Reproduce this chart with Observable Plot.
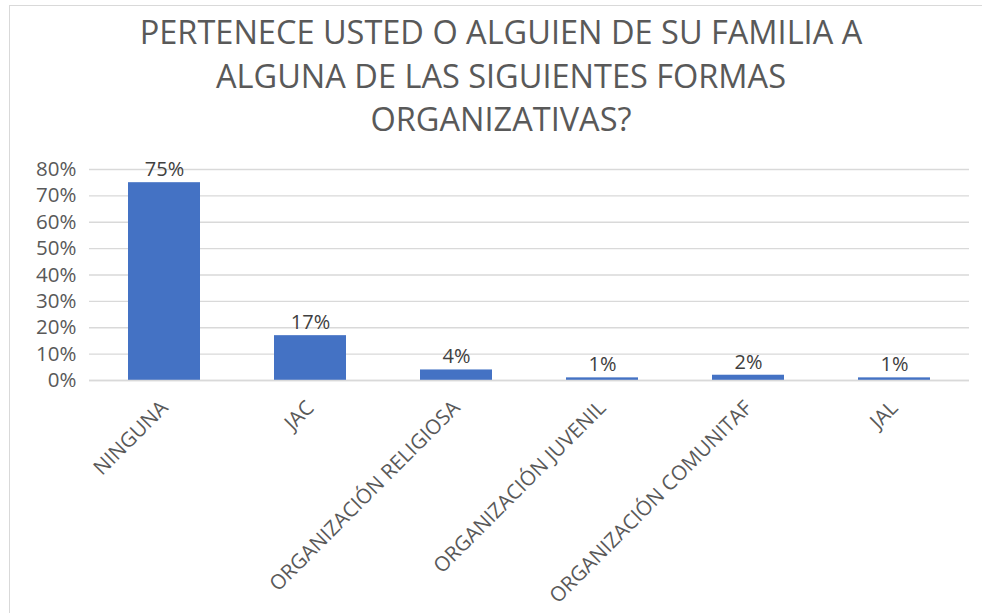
<!DOCTYPE html>
<html>
<head>
<meta charset="utf-8">
<script src="https://cdn.jsdelivr.net/npm/d3@7"></script>
<script src="https://cdn.jsdelivr.net/npm/@observablehq/plot@0.6"></script>
<style>
  html, body { margin: 0; padding: 0; background: #fff; }
  #wrap { position: relative; width: 982px; height: 613px; overflow: hidden; background: #fff; font-family: "Open Sans", sans-serif; }
  #frame { position: absolute; left: 9px; top: 5px; width: 990px; height: 620px; border-left: 1px solid #d9d9d9; border-top: 1px solid #d9d9d9; }
  #title { position: absolute; left: 0; top: 10px; width: 1002px; text-align: center; color: #595959; font-size: 32.5px; line-height: 43.5px; }
  #chart { position: absolute; left: 0; top: 150px; }
</style>
</head>
<body>
<div id="wrap">
  <div id="frame"></div>
  <div id="title">PERTENECE USTED O ALGUIEN DE SU FAMILIA A<br>ALGUNA DE LAS SIGUIENTES FORMAS<br>ORGANIZATIVAS?</div>
  <div id="chart"></div>
</div>
<script>
const categories = ["NINGUNA", "JAC", "ORGANIZACIÓN RELIGIOSA", "ORGANIZACIÓN JUVENIL", "ORGANIZACIÓN COMUNITAF", "JAL"];
const values = [0.75, 0.17, 0.04, 0.01, 0.02, 0.01];
const yTicks = [0, 0.1, 0.2, 0.3, 0.4, 0.5, 0.6, 0.7, 0.8];

const data = categories.map((c, i) => ({category: c, value: values[i]}));

const chart = Plot.plot({
  width: 982,
  height: 463,
  marginLeft: 89,
  marginRight: 13,
  marginTop: 19,
  marginBottom: 233,
  style: {fontFamily: "Open Sans, sans-serif", color: "#595959", background: "transparent"},
  x: {domain: categories, paddingInner: 0.51, paddingOuter: 0.255, label: null},
  y: {domain: [0, 0.8], label: null},
  marks: [
    Plot.gridY(yTicks, {stroke: "#d9d9d9", strokeOpacity: 1, strokeWidth: 1.3}),
    Plot.axisY(yTicks, {tickSize: 0, tickPadding: 13, tickFormat: d => Math.round(d * 100) + "%", fontSize: 20.5, fill: "#595959", label: null}),
    Plot.barY(data, {x: "category", y: "value", fill: "#4472C4"}),
    Plot.text(data, {x: "category", y: "value", text: d => Math.round(d.value * 100) + "%", dy: -13, fontSize: 20, fill: "#404040"}),
    Plot.axisX({tickSize: 0, tickPadding: 24, tickRotate: -45, fontSize: 20.5, fill: "#595959", label: null}),
    Plot.ruleY([0], {stroke: "#d9d9d9", strokeWidth: 1.3})
  ]
});
document.getElementById("chart").appendChild(chart);
</script>
</body>
</html>
